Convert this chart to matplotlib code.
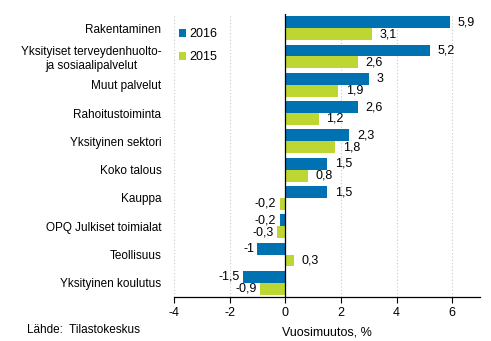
import numpy as np
import matplotlib.pyplot as plt

plt.rcParams['font.family'] = ['Liberation Sans', 'DejaVu Sans']

categories = ["Rakentaminen",
              "Yksityiset terveydenhuolto-\nja sosiaalipalvelut",
              "Muut palvelut", "Rahoitustoiminta", "Yksityinen sektori",
              "Koko talous", "Kauppa", "OPQ Julkiset toimialat",
              "Teollisuus", "Yksityinen koulutus"]
v2016 = [5.9, 5.2, 3.0, 2.6, 2.3, 1.5, 1.5, -0.2, -1.0, -1.5]
v2015 = [3.1, 2.6, 1.9, 1.2, 1.8, 0.8, -0.2, -0.3, 0.3, -0.9]
ticks = [-4, -2, 0, 2, 4, 6]

c16 = "#0072B2"
c15 = "#BDD631"

fig = plt.figure(figsize=(4.91, 3.41), dpi=100)
ax = fig.add_axes([0.354, 0.129, 0.624, 0.830])

y = np.arange(len(categories))
h = 0.42
b1 = ax.barh(y - h / 2, v2016, height=h, color=c16, label="2016", zorder=3)
b2 = ax.barh(y + h / 2, v2015, height=h, color=c15, label="2015", zorder=3)

def fmt(v):
    return f"{v:g}".replace(".", ",")

for bars, vals in ((b1, v2016), (b2, v2015)):
    for bar, v in zip(bars, vals):
        yc = bar.get_y() + bar.get_height() / 2
        if v >= 0:
            ax.text(v + 0.28, yc, fmt(v), va="center", ha="left", fontsize=9)
        else:
            ax.text(v - 0.12, yc, fmt(v), va="center", ha="right", fontsize=9)

ax.set_xlim(-4, 7)
ax.set_ylim(len(categories) - 0.5, -0.5)
ax.set_xticks(ticks)
ax.set_xticklabels([str(t) for t in ticks], fontsize=9)
ax.set_yticks(y)
ax.set_yticklabels(categories, fontsize=8.5, ha="right")
ax.tick_params(axis="y", length=0, pad=9)
ax.tick_params(axis="x", length=4, width=0.8)
for lbl in ax.get_yticklabels():
    lbl.set_multialignment("center")

ax.grid(axis="x", color="#c8c8c8", linestyle=(0, (1, 2)), linewidth=0.8, zorder=0)
ax.axvline(0, color="black", linewidth=0.9, zorder=4)
for s in ("top", "right", "left"):
    ax.spines[s].set_visible(False)
ax.spines["bottom"].set_linewidth(0.9)

ax.set_xlabel("Vuosimuutos, %", fontsize=9, labelpad=5)
ax.legend(loc="upper left", bbox_to_anchor=(-0.02, 0.99), frameon=False,
          fontsize=9, handlelength=0.6, handleheight=0.6, handletextpad=0.2,
          labelspacing=0.9)

fig.text(0.055, 0.022, "Lähde:  Tilastokeskus", fontsize=8.5)

fig.savefig("out.png", dpi=100)
